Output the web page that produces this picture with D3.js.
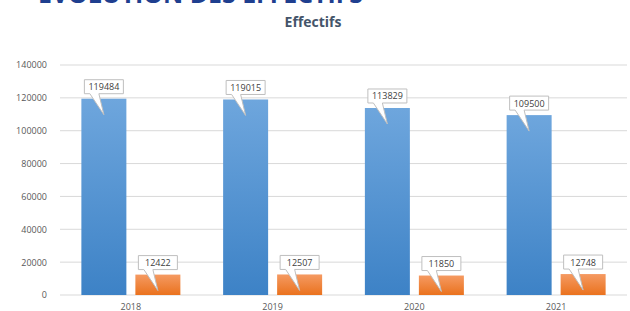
<!DOCTYPE html>
<html>
<head>
<meta charset="utf-8">
<script src="https://cdn.jsdelivr.net/npm/d3@7"></script>
<style>
  body { margin: 0; background: #fff; }
  svg { display: block; font-family: "Open Sans", "Liberation Sans", sans-serif; }
</style>
</head>
<body>
<div id="chart"></div>
<script>
var years = ["2018", "2019", "2020", "2021"];
var effectifsA = [119484, 119015, 113829, 109500];
var effectifsB = [12422, 12507, 11850, 12748];
var yTicks = [0, 20000, 40000, 60000, 80000, 100000, 120000, 140000];

var width = 630, height = 311;
var margin = { top: 65, right: 3, bottom: 16, left: 60 };

var svg = d3.select("#chart").append("svg")
    .attr("width", width)
    .attr("height", height);

var defs = svg.append("defs");
function grad(id, top, bottom) {
    var g = defs.append("linearGradient").attr("id", id)
        .attr("x1", 0).attr("y1", 0).attr("x2", 0).attr("y2", 1);
    g.append("stop").attr("offset", "0%").attr("stop-color", top);
    g.append("stop").attr("offset", "100%").attr("stop-color", bottom);
}
grad("gBlue", "#6ea6dd", "#3d82c6");
grad("gOrange", "#f59a62", "#ea721e");

// cut-off heading at the very top
svg.append("text")
    .attr("x", 38).attr("y", 3)
    .attr("textLength", 325)
    .attr("lengthAdjust", "spacingAndGlyphs")
    .style("font-size", "24px")
    .style("font-weight", "bold")
    .style("fill", "#1f3f8f")
    .text("ÉVOLUTION DES EFFECTIFS");

svg.append("text")
    .attr("x", 313).attr("y", 27)
    .attr("text-anchor", "middle")
    .style("font-size", "14px")
    .style("font-weight", "bold")
    .style("fill", "#44546a")
    .text("Effectifs");

var x = d3.scaleBand().domain(years)
    .range([margin.left, width - margin.right]);
var y = d3.scaleLinear().domain([0, 140000])
    .range([height - margin.bottom, margin.top]);

var barW = 45, gap = 9;

// gridlines
svg.append("g").selectAll("line")
    .data(yTicks)
    .enter().append("line")
    .attr("x1", margin.left).attr("x2", width - margin.right)
    .attr("y1", function (d) { return y(d); })
    .attr("y2", function (d) { return y(d); })
    .attr("stroke", "#d9d9d9")
    .attr("stroke-width", 1);

// y axis labels
var yAxis = svg.append("g")
    .attr("transform", "translate(" + (margin.left - 10) + ",0)")
    .call(d3.axisLeft(y).tickValues(yTicks).tickSize(0).tickFormat(d3.format("d")));
yAxis.select(".domain").remove();
yAxis.selectAll("text")
    .style("font-size", "9px")
    .style("font-family", "Open Sans, sans-serif")
    .style("fill", "#595959");

// x axis labels
var xAxis = svg.append("g")
    .attr("transform", "translate(0," + (height - margin.bottom) + ")")
    .call(d3.axisBottom(x).tickSize(0).tickPadding(9));
xAxis.select(".domain").remove();
xAxis.selectAll("text")
    .style("font-size", "9px")
    .style("font-family", "Open Sans, sans-serif")
    .style("fill", "#595959");

var series = [
    { values: effectifsA, fill: "url(#gBlue)", offset: -(barW + gap) / 2 },
    { values: effectifsB, fill: "url(#gOrange)", offset: (barW + gap) / 2 }
];

series.forEach(function (s) {
    var data = years.map(function (yr, i) { return { year: yr, v: s.values[i] }; });
    var cx = function (d) { return x(d.year) + x.bandwidth() / 2 + s.offset; };

    svg.append("g").selectAll("rect")
        .data(data)
        .enter().append("rect")
        .attr("x", function (d) { return cx(d) - barW / 2; })
        .attr("y", function (d) { return y(d.v); })
        .attr("width", barW)
        .attr("height", function (d) { return y(0) - y(d.v); })
        .attr("fill", s.fill);

    // callout labels
    var lab = svg.append("g").selectAll("g")
        .data(data)
        .enter().append("g")
        .attr("transform", function (d) { return "translate(" + cx(d) + "," + y(d.v) + ")"; });

    var bw = 39, bh = 14;
    lab.append("path")
        .attr("d", function () {
            var l = -bw / 2, t = -5 - bh, b = -5;
            return "M" + l + "," + t + " H" + (bw / 2) + " V" + b +
                " H-5 L0,16 L-14," + b + " H" + l + " Z";
        })
        .attr("fill", "#fff")
        .attr("stroke", "#bfbfbf")
        .attr("stroke-width", 1);

    lab.append("text")
        .attr("x", 0).attr("y", -8.5)
        .attr("text-anchor", "middle")
        .style("font-size", "9px")
        .style("fill", "#404040")
        .text(function (d) { return d.v; });
});
</script>
</body>
</html>
